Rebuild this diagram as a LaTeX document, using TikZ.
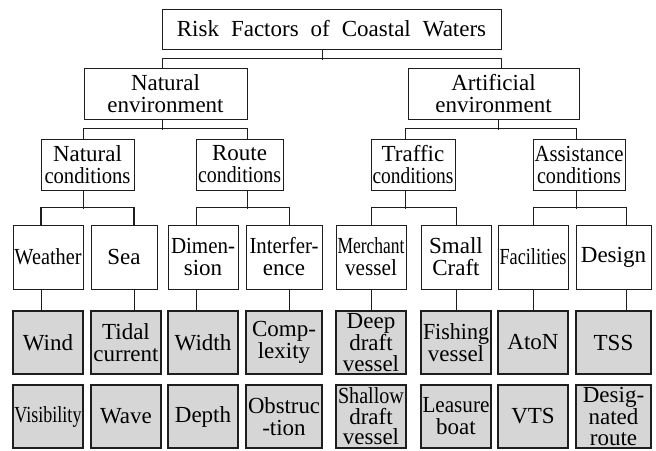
\documentclass[tikz,border=0pt]{standalone}
\usepackage{fontspec}
\setmainfont{Liberation Serif}
\usepackage{graphicx}
% squeeze a word horizontally to a given width, keeping its height
\newcommand\squeeze[2]{\resizebox{#1}{\height}{#2}}
\definecolor{leafgray}{HTML}{D6D6D6}
\definecolor{ink}{HTML}{1E1E1E}
\tikzset{
  box/.style={draw=ink, line width=1pt, fill=white, inner sep=0pt, align=center,
              font=\fontsize{23}{22}\selectfont},
  leaf/.style={box, fill=leafgray, line width=1.3pt},
  tight/.style={font=\fontsize{23}{20.5}\selectfont},
  wh/.style 2 args={minimum width=#1, minimum height=#2},
  link/.style={draw=ink, line width=0.9pt},
}
\begin{document}
\begin{tikzpicture}[x=1pt, y=-1pt]
\useasboundingbox (0,0) rectangle (656,450);

% level 1
\node[box, wh={339}{40}] (top) at (331.5,29) {{\spaceskip=12pt Risk Factors of Coastal Waters}};

% level 2
\node[box, wh={163}{51}] (natenv) at (165.5,93.5) {Natural\\environment};
\node[box, wh={171}{51}] (artenv) at (493.5,93.5) {Artificial\\environment};

% level 3
\node[box, wh={93}{51}] (natcond)    at (87.5,164.5) {Natural\\\squeeze{86pt}{conditions}};
\node[box, wh={87}{51}] (routecond)  at (239.5,164.5) {Route\\\squeeze{83pt}{conditions}};
\node[box, wh={84}{51}] (trafcond)   at (413,164.5) {Traffic\\\squeeze{81pt}{conditions}};
\node[box, wh={92}{51}] (assistcond) at (579,164.5) {\squeeze{89pt}{Assistance}\\\squeeze{84pt}{conditions}};

% level 4
\node[box, wh={70}{64}] (weather)      at (48,257)    {\squeeze{67pt}{Weather}};
\node[box, wh={66}{64}] (sea)          at (124,257)   {Sea};
\node[box, wh={70}{64}] (dimension)    at (203,257)   {\squeeze{64pt}{Dimen-}\\sion};
\node[box, wh={76}{64}] (interference) at (284,257)   {\squeeze{69pt}{Interfer-}\\ence};
\node[box, wh={70}{64}] (merchant)     at (371,257)   {\squeeze{67pt}{Merchant}\\\squeeze{52pt}{vessel}};
\node[box, wh={70}{64}] (smallcraft)   at (456,257)   {Small\\Craft};
\node[box, wh={70}{64}] (facilities)   at (533,257)   {\squeeze{67pt}{Facilities}};
\node[box, wh={75}{64}] (design)       at (613.5,257) {Design};

% level 5, first row
\node[leaf, wh={70}{63}] (wind)       at (48,342.5)    {Wind};
\node[leaf, wh={70}{63}] (tidal)      at (126,342.5)   {Tidal\\current};
\node[leaf, wh={70}{63}] (width)      at (203,342.5)   {Width};
\node[leaf, wh={76}{63}] (complexity) at (284,342.5)   {Comp-\\lexity};
\node[leaf, tight, wh={70}{63}] (deep) at (371,342.5)  {Deep\\draft\\vessel};
\node[leaf, wh={70}{63}] (fishing)    at (456,342.5)   {\squeeze{66pt}{Fishing}\\vessel};
\node[leaf, wh={70}{63}] (aton)       at (533,342.5)   {AtoN};
\node[leaf, wh={75}{63}] (tss)        at (613.5,342.5) {TSS};

% level 5, second row
\node[leaf, wh={70}{63}] (visibility)  at (48,416.5)    {\squeeze{67pt}{Visibility}};
\node[leaf, wh={70}{63}] (wave)        at (126,416.5)   {Wave};
\node[leaf, wh={70}{63}] (depth)       at (203,416.5)   {Depth};
\node[leaf, wh={76}{63}] (obstruction) at (284,416.5)   {\squeeze{72pt}{Obstruc}\\-tion};
\node[leaf, tight, wh={70}{63}] (shallow) at (371,416.5) {\squeeze{66pt}{Shallow}\\draft\\vessel};
\node[leaf, wh={70}{63}] (leasure)     at (456,416.5)   {\squeeze{67pt}{Leasure}\\boat};
\node[leaf, wh={70}{63}] (vts)         at (533,416.5)   {VTS};
\node[leaf, tight, wh={75}{63}] (designated) at (613.5,416.5) {Desig-\\nated\\route};

% level 1 -> level 2
\draw[link] ([xshift=-9.5]top.south) -- ++(0,10);
\draw[link] ([xshift=-3.5]natenv.north) -- ++(0,-9) -| ([xshift=7.5]artenv.north);

% level 2 -> level 3
\draw[link] ([xshift=-3.5]natenv.south) -- ++(0,10);
\draw[link] ([xshift=-4.5]natcond.north) -- ++(0,-10) -| ([xshift=7.5]routecond.north);
\draw[link] ([xshift=4.5]artenv.south) -- ++(0,10);
\draw[link] ([xshift=-8]trafcond.north) -- ++(0,-10) -| ([xshift=-3]assistcond.north);

% level 3 -> level 4
\draw[link] ([xshift=-4.5]natcond.south) -- ++(0,18);
\draw[link, line width=1.4pt] ([xshift=-7]weather.north) -- ++(0,-17) -| ([xshift=10]sea.north);
\draw[link] ([xshift=7.5]routecond.south) -- ++(0,18);
\draw[link] ([xshift=-7]dimension.north) -- ++(0,-17) -| ([xshift=5]interference.north);
\draw[link] ([xshift=-8]trafcond.south) -- ++(0,18);
\draw[link] (merchant.north) -- ++(0,-17) -| (smallcraft.north);
\draw[link] ([xshift=-3]assistcond.south) -- ++(0,18);
\draw[link] (facilities.north) -- ++(0,-17) -| ([xshift=12.5]design.north);

% level 4 -> level 5
\draw[link] ([xshift=-7]weather.south) -- ([xshift=-7]wind.north);
\draw[link] ([xshift=10]sea.south) -- ([xshift=8]tidal.north);
\draw[link] ([xshift=-7]dimension.south) -- ([xshift=-7]width.north);
\draw[link] ([xshift=5]interference.south) -- ([xshift=5]complexity.north);
\draw[link] (merchant.south) -- (deep.north);
\draw[link] (smallcraft.south) -- (fishing.north);
\draw[link] (facilities.south) -- (aton.north);
\draw[link] ([xshift=12.5]design.south) -- ([xshift=12.5]tss.north);
\end{tikzpicture}
\end{document}
